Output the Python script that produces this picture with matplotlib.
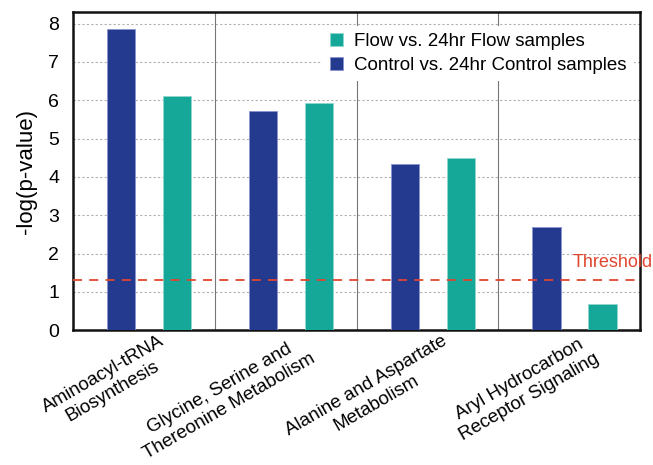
import numpy as np
import matplotlib
matplotlib.use("Agg")
import matplotlib.pyplot as plt

plt.rcParams['font.family'] = ['Liberation Sans', 'DejaVu Sans']

# pathway categories and -log(p) values
pathways = ["Aminoacyl-tRNA\nBiosynthesis",
            "Glycine, Serine and\nThereonine Metabolism",
            "Alanine and Aspartate\nMetabolism",
            "Aryl Hydrocarbon\nReceptor Signaling"]
control_vals = [7.87, 5.73, 4.33, 2.70]
flow_vals = [6.12, 5.92, 4.48, 0.68]
threshold = 1.3

blue = "#233a8f"
teal = "#15a899"
red = "#e0452f"

fig = plt.figure(figsize=(6.53, 4.65), dpi=100)
ax = fig.add_axes([0.112, 0.29, 0.868, 0.684])

x = np.arange(len(pathways))
w = 0.2
ax.bar(x - 0.16, control_vals, w, color=blue, edgecolor="#8a93d0", linewidth=0.6,
       label="Control vs. 24hr Control samples", zorder=3)
ax.bar(x + 0.235, flow_vals, w, color=teal, edgecolor="#8fd6cc", linewidth=0.6,
       label="Flow vs. 24hr Flow samples", zorder=3)

# dotted horizontal grid
for yv in range(1, 9):
    ax.axhline(yv, color="#b0b0b0", linestyle=(0, (2, 2)), linewidth=0.8, zorder=1)
# group separators
for xv in x[:-1] + 0.5:
    ax.axvline(xv, color="#777777", linewidth=0.8, zorder=1)

ax.axhline(threshold, color=red, linestyle=(0, (5, 4)), linewidth=1.3, zorder=4)
ax.text(3.59, 1.55, "Threshold", color=red, fontsize=13, ha="right", va="bottom",
        zorder=5, clip_on=False)

ax.set_xlim(-0.5, 3.5)
ax.set_ylim(0, 8.3)
ax.set_yticks(range(0, 9))
ax.tick_params(axis="y", labelsize=14, length=0, pad=10)
ax.tick_params(axis="x", length=0, pad=2)
ax.set_xticks(x + 0.1)
ax.set_xticklabels(pathways, rotation=30, ha="right", rotation_mode="anchor",
                   multialignment="center", fontsize=13.5)
ax.set_ylabel("-log(p-value)", fontsize=16, labelpad=8)

for s in ax.spines.values():
    s.set_linewidth(1.8)
    s.set_color("#111111")

handles, labels = ax.get_legend_handles_labels()
leg = ax.legend(handles[::-1], labels[::-1], loc="upper right", bbox_to_anchor=(1.0, 0.975),
                frameon=True, fontsize=13.5, handlelength=0.7, handleheight=0.7,
                handletextpad=0.6, labelspacing=0.35, borderaxespad=0.3)
leg.get_frame().set_edgecolor("none")
leg.get_frame().set_facecolor("white")
leg.get_frame().set_alpha(1)
leg.set_zorder(6)

fig.savefig("out.png", dpi=100)
